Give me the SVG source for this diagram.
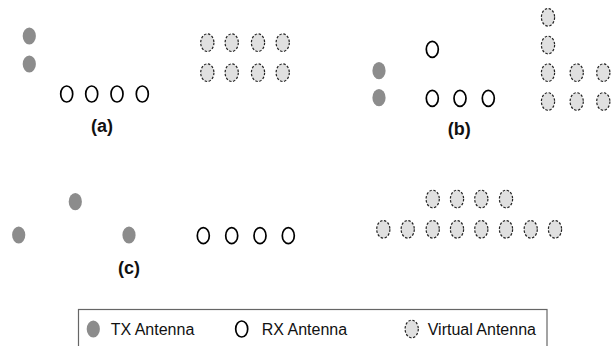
<svg xmlns="http://www.w3.org/2000/svg" width="615" height="346" viewBox="0 0 615 346">
<style>
.tx{fill:#8c8c8c;stroke:none}
.rx{fill:#fff;stroke:#000;stroke-width:1.7}
.va{fill:#e0e0e0;stroke:#222;stroke-width:1.2;stroke-dasharray:2.5 1.6}
.lbl{font-family:"Liberation Sans",Arial,sans-serif;font-weight:bold;font-size:18px;fill:#111;text-anchor:middle}
.leg{font-family:"Liberation Sans",Arial,sans-serif;font-size:16px;fill:#111}
</style>
<defs>
<ellipse id="t" class="tx" cx="0" cy="0" rx="6.6" ry="8.6"/>
<ellipse id="r" class="rx" cx="0" cy="0" rx="6" ry="8"/>
<ellipse id="v" class="va" cx="0" cy="0" rx="6.6" ry="8.8"/>
</defs>
<g id="panel-a">
<use href="#t" x="29.3" y="36"/>
<use href="#t" x="29.3" y="64"/>
<use href="#r" x="66.7" y="94"/>
<use href="#r" x="91.7" y="94"/>
<use href="#r" x="117" y="94"/>
<use href="#r" x="142.3" y="94"/>
<use href="#v" x="207.3" y="42.7"/>
<use href="#v" x="231.7" y="42.7"/>
<use href="#v" x="258" y="42.7"/>
<use href="#v" x="282.7" y="42.7"/>
<use href="#v" x="207.3" y="72.7"/>
<use href="#v" x="231.7" y="72.7"/>
<use href="#v" x="258" y="72.7"/>
<use href="#v" x="282.7" y="72.7"/>
<text class="lbl" x="102" y="132">(a)</text>
</g>
<g id="panel-b">
<use href="#t" x="379" y="70.7"/>
<use href="#t" x="379" y="97.7"/>
<use href="#r" x="432.3" y="49.3"/>
<use href="#r" x="432.3" y="98.3"/>
<use href="#r" x="460" y="98.3"/>
<use href="#r" x="488.3" y="98.3"/>
<use href="#v" x="548" y="17.3"/>
<use href="#v" x="548" y="45"/>
<use href="#v" x="548" y="72.7"/>
<use href="#v" x="576.7" y="72.7"/>
<use href="#v" x="603.3" y="72.7"/>
<use href="#v" x="548" y="101.5"/>
<use href="#v" x="576.7" y="101.5"/>
<use href="#v" x="603.3" y="101.5"/>
<text class="lbl" x="459.3" y="134.5">(b)</text>
</g>
<g id="panel-c">
<use href="#t" x="75.3" y="201.7"/>
<use href="#t" x="18.7" y="235"/>
<use href="#t" x="129" y="235"/>
<use href="#r" x="203.3" y="235.7"/>
<use href="#r" x="231.7" y="235.7"/>
<use href="#r" x="260" y="235.7"/>
<use href="#r" x="288.3" y="235.7"/>
<use href="#v" x="432.7" y="199"/>
<use href="#v" x="457" y="199"/>
<use href="#v" x="481.3" y="199"/>
<use href="#v" x="506" y="199"/>
<use href="#v" x="383.3" y="229.3"/>
<use href="#v" x="407.7" y="229.3"/>
<use href="#v" x="432.7" y="229.3"/>
<use href="#v" x="457" y="229.3"/>
<use href="#v" x="481.3" y="229.3"/>
<use href="#v" x="506" y="229.3"/>
<use href="#v" x="530.7" y="229.3"/>
<use href="#v" x="555" y="229.3"/>
<text class="lbl" x="129" y="273.5">(c)</text>
</g>
<g id="legend">
<rect x="78.5" y="309.5" width="468.5" height="60" fill="#fff" stroke="#666" stroke-width="1.2"/>
<use href="#t" x="93.3" y="329"/>
<text class="leg" x="110.7" y="334.5">TX Antenna</text>
<use href="#r" x="241.7" y="329"/>
<text class="leg" x="261.7" y="334.5">RX Antenna</text>
<use href="#v" x="411.7" y="329"/>
<text class="leg" x="427.7" y="334.5">Virtual Antenna</text>
</g>
<g id="connectors"/>
</svg>
